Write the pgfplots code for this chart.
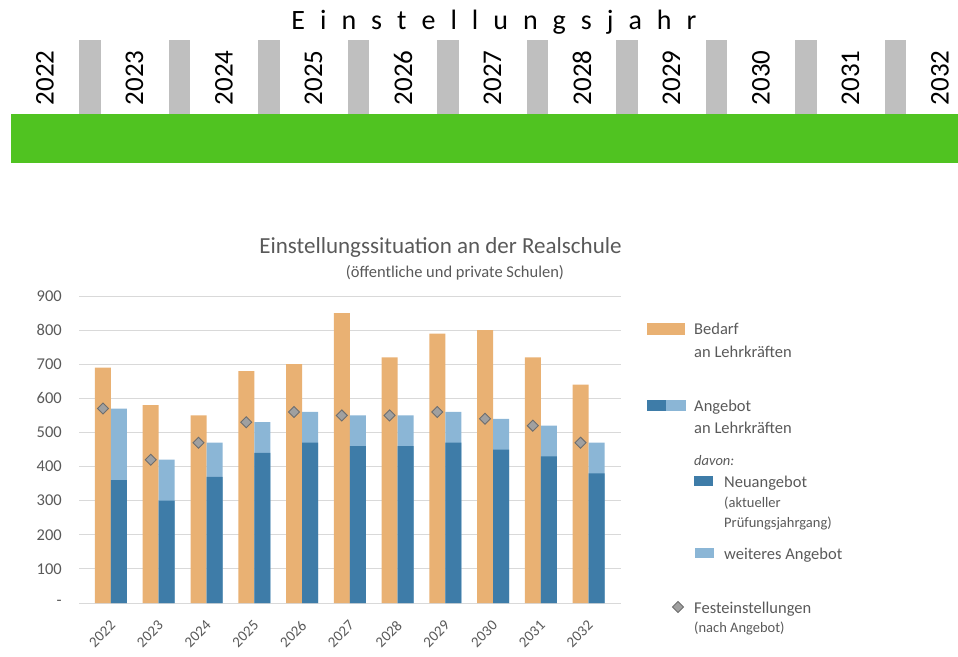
\documentclass[border=0pt]{standalone}
\usepackage{pgfplots}
\pgfplotsset{compat=1.18}
\usepackage{pgfplotstable}
\usepackage{fontspec}
\setmainfont{Carlito}
\definecolor{bedarf}{HTML}{E9B173}
\definecolor{neu}{HTML}{3E7CA8}
\definecolor{weiter}{HTML}{8BB6D6}
\definecolor{txt}{HTML}{595959}
\definecolor{gridc}{HTML}{D9D9D9}
\definecolor{hgreen}{HTML}{50C321}
\definecolor{hgrey}{HTML}{BFBFBF}
\definecolor{dia}{HTML}{A0A0A0}
\definecolor{diaedge}{HTML}{6E6E6E}

\pgfplotstableread{
x bedarf neu angebot fest
0 690 360 570 570
1 580 300 420 420
2 550 370 470 470
3 680 440 530 530
4 700 470 560 560
5 850 460 550 550
6 720 460 550 550
7 790 470 560 560
8 800 450 540 540
9 720 430 520 520
10 640 380 470 470
}\datatable

\newcommand{\fs}[1]{\fontsize{#1}{#1}\selectfont}

\begin{document}
\begin{tikzpicture}[x=1pt,y=1pt]
\useasboundingbox (0pt,0pt) rectangle (958pt,-656pt);
% ---------- header ----------
\fill[hgreen] (11pt,-114pt) rectangle (958pt,-163pt);
\foreach \i in {0,...,9} {\fill[hgrey] ({79+89.5*\i},-40) rectangle ({100.5+89.5*\i},-114);}
\foreach \y [count=\i from 0] in {2022,2023,2024,2025,2026,2027,2028,2029,2030,2031,2032}
  {\node[rotate=90, font=\fs{27}, inner sep=0pt] at ({45+89.5*\i},-78) {\y};}
\node[font=\fs{28}, inner sep=0pt, anchor=base] at (494pt,-29pt) {{\spaceskip=15pt\relax E i n s t e l l u n g s j a h r}};

% ---------- chart titles ----------
\node[font=\fs{23}, text=txt, inner sep=0pt, anchor=base] at (440.5pt,-253pt) {Einstellungssituation an der Realschule};
\node[font=\fs{16.5}, text=txt, inner sep=0pt, anchor=base] at (455pt,-277pt) {(öffentliche und private Schulen)};

% ---------- axis ----------
\begin{axis}[
  at={(79pt,-603pt)}, anchor=south west,
  scale only axis, width=542pt, height=307pt,
  xmin=-0.67, xmax=10.68, ymin=0, ymax=900,
  xtick={0,...,10},
  xticklabels={2022,2023,2024,2025,2026,2027,2028,2029,2030,2031,2032},
  ytick={0,100,...,900},
  yticklabels={-,100,200,300,400,500,600,700,800,900},
  ymajorgrids, grid style={gridc, line width=1pt},
  axis line style={draw=none},
  major tick length=0pt,
  /pgf/number format/assume math mode=true,
  tick label style={text=txt},
  yticklabel style={font=\fs{16.5}, anchor=east, inner sep=0pt, xshift=-17pt},
  xticklabel style={font=\fs{15}, yshift=-20pt, xshift=2pt, rotate=45, anchor=east, inner sep=0pt},
  clip=false,
]
\addplot[ybar, bar width=16pt, bar shift=-8pt, fill=bedarf, draw=none] table[x=x, y=bedarf] {\datatable};
\addplot[ybar, bar width=16pt, bar shift=8pt, fill=weiter, draw=none] table[x=x, y=angebot] {\datatable};
\addplot[ybar, bar width=16pt, bar shift=8pt, fill=neu, draw=none] table[x=x, y=neu] {\datatable};
\addplot[only marks, mark=square*, mark size=3.9pt,
  mark options={xshift=-8pt, rotate=45, fill=dia, draw=diaedge, line width=0.9pt}]
  table[x=x, y=fest] {\datatable};
\end{axis}

% ---------- legend ----------
\fill[bedarf] (647pt,-323pt) rectangle (685pt,-335pt);
\node[font=\fs{16.5}, text=txt, anchor=base west, inner sep=0pt] at (694pt,-334pt) {Bedarf};
\node[font=\fs{16.5}, text=txt, anchor=base west, inner sep=0pt] at (694pt,-357pt) {an Lehrkräften};
\fill[neu] (647pt,-400pt) rectangle (666pt,-411pt);
\fill[weiter] (666pt,-400pt) rectangle (686pt,-411pt);
\node[font=\fs{16.5}, text=txt, anchor=base west, inner sep=0pt] at (694pt,-411pt) {Angebot};
\node[font=\fs{16.5}, text=txt, anchor=base west, inner sep=0pt] at (694pt,-433pt) {an Lehrkräften};
\node[font=\fs{14.5}\itshape, text=txt, anchor=base west, inner sep=0pt] at (694pt,-465pt) {davon:};
\fill[neu] (694pt,-476pt) rectangle (713pt,-486pt);
\node[font=\fs{16.5}, text=txt, anchor=base west, inner sep=0pt] at (724pt,-487pt) {Neuangebot};
\node[font=\fs{14.5}, text=txt, anchor=base west, inner sep=0pt] at (724pt,-507pt) {(aktueller};
\node[font=\fs{14.5}, text=txt, anchor=base west, inner sep=0pt] at (724pt,-527pt) {Prüfungsjahrgang)};
\fill[weiter] (695pt,-548pt) rectangle (714pt,-558pt);
\node[font=\fs{16.5}, text=txt, anchor=base west, inner sep=0pt] at (724pt,-559pt) {weiteres Angebot};
\draw[fill=dia, draw=diaedge, line width=0.9pt] (678pt,-601.5pt) -- (683.5pt,-607pt) -- (678pt,-612.5pt) -- (672.5pt,-607pt) -- cycle;
\node[font=\fs{16.5}, text=txt, anchor=base west, inner sep=0pt] at (694pt,-613pt) {Festeinstellungen};
\node[font=\fs{14.5}, text=txt, anchor=base west, inner sep=0pt] at (694pt,-632pt) {(nach Angebot)};
\end{tikzpicture}
\end{document}
